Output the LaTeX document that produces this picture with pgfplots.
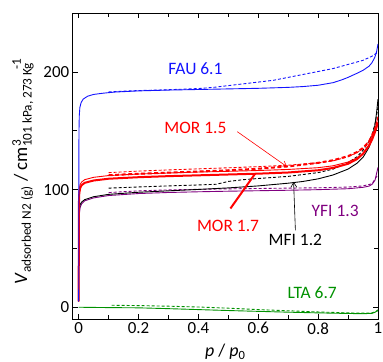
\documentclass[border=0pt]{standalone}
\usepackage{fontspec}
\setmainfont{Carlito}
\usepackage{pgfplots}
\pgfplotsset{compat=1.18}
\usetikzlibrary{arrows.meta}
\definecolor{fau}{RGB}{20,20,255}
\definecolor{mor}{RGB}{255,0,0}
\definecolor{yfi}{RGB}{128,0,128}
\definecolor{lta}{RGB}{0,145,0}
\newcommand\sub[1]{\mbox{\fontsize{13.3}{14}\selectfont #1}}
\begin{document}
\begin{tikzpicture}
\begin{axis}[
  scale only axis, width=305.3bp, height=305.7bp,
  xmin=-0.02, xmax=1, ymin=-10, ymax=250,
  xtick={0,0.2,0.4,0.6,0.8,1}, minor x tick num=1,
  ytick={0,100,200}, minor y tick num=1,
  tick align=inside,
  major tick length=5bp, minor tick length=4bp,
  axis line style={line width=0.8pt},
  every tick/.style={black, line width=0.8pt},
  /pgf/number format/assume math mode=true,
  tick label style={font=\fontsize{17}{20}\selectfont},
  xlabel={\textit{p} / \textit{p}\textsubscript{0}},
  xlabel style={font=\fontsize{18}{21}\selectfont, at={(axis description cs:0.5,-0.124)}, anchor=base},
  ylabel={\textit{V}$_{\sub{adsorbed N2 (g)}}$ / cm$^{\sub{3}}_{\sub{101 kPa, 273 K}}$\kern-0.1em$_{\sub{g}}^{\sub{-1}}$},
  ylabel style={font=\fontsize{19}{22}\selectfont, at={(axis description cs:-0.163,0.4825)}, anchor=center},
  every axis plot/.append style={line width=0.9pt},
]
% LTA
\addplot[lta] coordinates {(0,0) (0.1,-0.3) (0.2,-0.5) (0.3,-1.2) (0.4,-2) (0.5,-2.8) (0.6,-3.5) (0.7,-4.2) (0.8,-4.8) (0.9,-5.3) (0.95,-5.5) (0.98,-5.2) (0.99,-4.3) (1.0,-2.2)};
\addplot[lta, dash pattern=on 3bp off 2bp] coordinates {(0.11,1.7) (0.2,1.4) (0.3,0.9) (0.4,0.2) (0.5,-0.8) (0.6,-2) (0.7,-3) (0.8,-4) (0.9,-4.8) (0.95,-5) (0.98,-4.8) (1.0,-3)};
% YFI
\addplot[yfi] coordinates {(0,5) (0.0005,55) (0.001,70) (0.002,79) (0.005,85) (0.01,88) (0.02,90.5) (0.05,93) (0.1,95) (0.2,96.7) (0.3,97.6) (0.4,98.2) (0.5,98.7) (0.6,99.1) (0.7,99.5) (0.8,100) (0.9,100.8) (0.95,102) (0.97,103) (0.98,104.5) (0.99,108) (1.0,119)};
\addplot[yfi, dash pattern=on 3bp off 2bp] coordinates {(0.1,97.5) (0.2,99) (0.3,99.8) (0.4,100.3) (0.5,100.7) (0.6,101) (0.7,101.3) (0.8,101.6) (0.9,102.2) (0.95,103.2) (0.98,105) (1.0,113)};
% MFI
\addplot[black] coordinates {(0,5) (0.0005,60) (0.001,75) (0.002,83) (0.005,87.5) (0.01,89.5) (0.02,91.5) (0.05,94) (0.1,96) (0.2,97.8) (0.3,99) (0.4,100.2) (0.5,101.5) (0.6,103.2) (0.7,105.5) (0.75,107) (0.8,109.2) (0.85,112.5) (0.9,117.5) (0.93,122.5) (0.95,127.5) (0.97,136) (0.98,143) (0.99,155) (0.995,165) (1.0,177)};
\addplot[black, dash pattern=on 3bp off 2bp] coordinates {(0.1,101.3) (0.2,102.3) (0.3,103.2) (0.4,104) (0.46,104.6) (0.5,107) (0.55,108.5) (0.6,109.5) (0.7,111.3) (0.8,114.5) (0.85,117.5) (0.9,123) (0.93,128) (0.95,133.5) (0.97,141) (0.98,147) (0.99,156) (1.0,170)};
% MOR 1.5 (thin)
\addplot[mor] coordinates {(0,5) (0.0005,80) (0.001,95) (0.002,101) (0.005,104.5) (0.01,106.5) (0.02,108.5) (0.05,110.5) (0.1,112) (0.2,113.3) (0.3,114.2) (0.4,115) (0.5,115.6) (0.6,116.3) (0.7,117.2) (0.8,118.7) (0.85,120.3) (0.9,123.5) (0.93,127) (0.95,131) (0.97,138) (0.98,143) (0.99,151) (1.0,162)};
\addplot[mor, dash pattern=on 3bp off 2bp] coordinates {(0.1,114.5) (0.2,115.8) (0.3,116.8) (0.4,117.7) (0.5,118.6) (0.6,119.6) (0.7,120.8) (0.8,122.8) (0.85,124.5) (0.9,128) (0.93,131.5) (0.95,135) (0.97,141) (0.98,146) (0.99,153) (1.0,162)};
% MOR 1.7 (thick)
\addplot[mor, line width=2bp] coordinates {(0,5) (0.0005,75) (0.001,90) (0.002,97) (0.005,101.5) (0.01,103.8) (0.02,105.8) (0.05,107.8) (0.1,109.3) (0.2,110.6) (0.3,111.5) (0.4,112.2) (0.5,112.9) (0.6,113.6) (0.7,114.6) (0.8,116.5) (0.85,118.5) (0.9,122) (0.93,126) (0.95,130.5) (0.97,137.5) (0.98,142.5) (0.99,149) (1.0,157)};
\addplot[mor, line width=2bp, dash pattern=on 4bp off 2.5bp] coordinates {(0.1,112.3) (0.2,113.5) (0.3,114.5) (0.4,115.4) (0.5,116.5) (0.6,117.8) (0.7,119.8) (0.8,122.8) (0.85,125) (0.9,128.5) (0.93,132) (0.95,135.5) (0.97,141) (0.98,146) (0.99,151) (1.0,157)};
% FAU
\addplot[fau] coordinates {(0,5) (0.0005,120) (0.001,150) (0.002,163) (0.004,170) (0.008,174) (0.015,177) (0.03,179.5) (0.05,181) (0.08,182) (0.12,183) (0.2,184) (0.3,184.7) (0.4,185.2) (0.5,185.7) (0.6,186.2) (0.7,187) (0.75,187.7) (0.8,188.8) (0.85,191) (0.88,193.5) (0.9,195.5) (0.93,199) (0.95,201.5) (0.97,205) (0.98,208) (0.99,213) (0.995,217) (1.0,224)};
\addplot[fau, dash pattern=on 3bp off 2bp] coordinates {(0.1,183.2) (0.2,184.3) (0.3,185) (0.4,186) (0.45,187) (0.5,188.5) (0.55,190) (0.6,191.5) (0.65,193) (0.7,195.5) (0.75,198) (0.8,200.5) (0.85,203) (0.9,206.5) (0.95,210) (0.98,213.5) (1.0,217)};
% annotations
\node[text=fau, font=\fontsize{17.5}{20}\selectfont] at (axis cs:0.39,202.8) {FAU 6.1};
\node[text=mor, font=\fontsize{17.5}{20}\selectfont] at (axis cs:0.39,152.7) {MOR 1.5};
\node[text=mor, font=\fontsize{17.5}{20}\selectfont] at (axis cs:0.499,68.9) {MOR 1.7};
\node[text=black, font=\fontsize{17.5}{20}\selectfont] at (axis cs:0.724,57.5) {MFI 1.2};
\node[text=yfi, font=\fontsize{17.5}{20}\selectfont] at (axis cs:0.857,81.9) {YFI 1.3};
\node[text=lta, font=\fontsize{17.5}{20}\selectfont] at (axis cs:0.78,12.3) {LTA 6.7};
\draw[mor, line width=0.6pt, -{Straight Barb[length=5bp,width=6bp]}] (axis cs:0.53,149.3) -- (axis cs:0.696,119.5);
\draw[black, line width=0.6pt, -{Straight Barb[length=5bp,width=6bp]}] (axis cs:0.724,65.4) -- (axis cs:0.718,106.7);
\draw[mor, line width=2bp] (axis cs:0.507,84) -- (axis cs:0.59,113.8);
\end{axis}
\pgfresetboundingbox
\path[use as bounding box] (current axis.south west) ++(-72.7bp,-43bp) rectangle ++(383bp,362bp);
\end{tikzpicture}
\end{document}
